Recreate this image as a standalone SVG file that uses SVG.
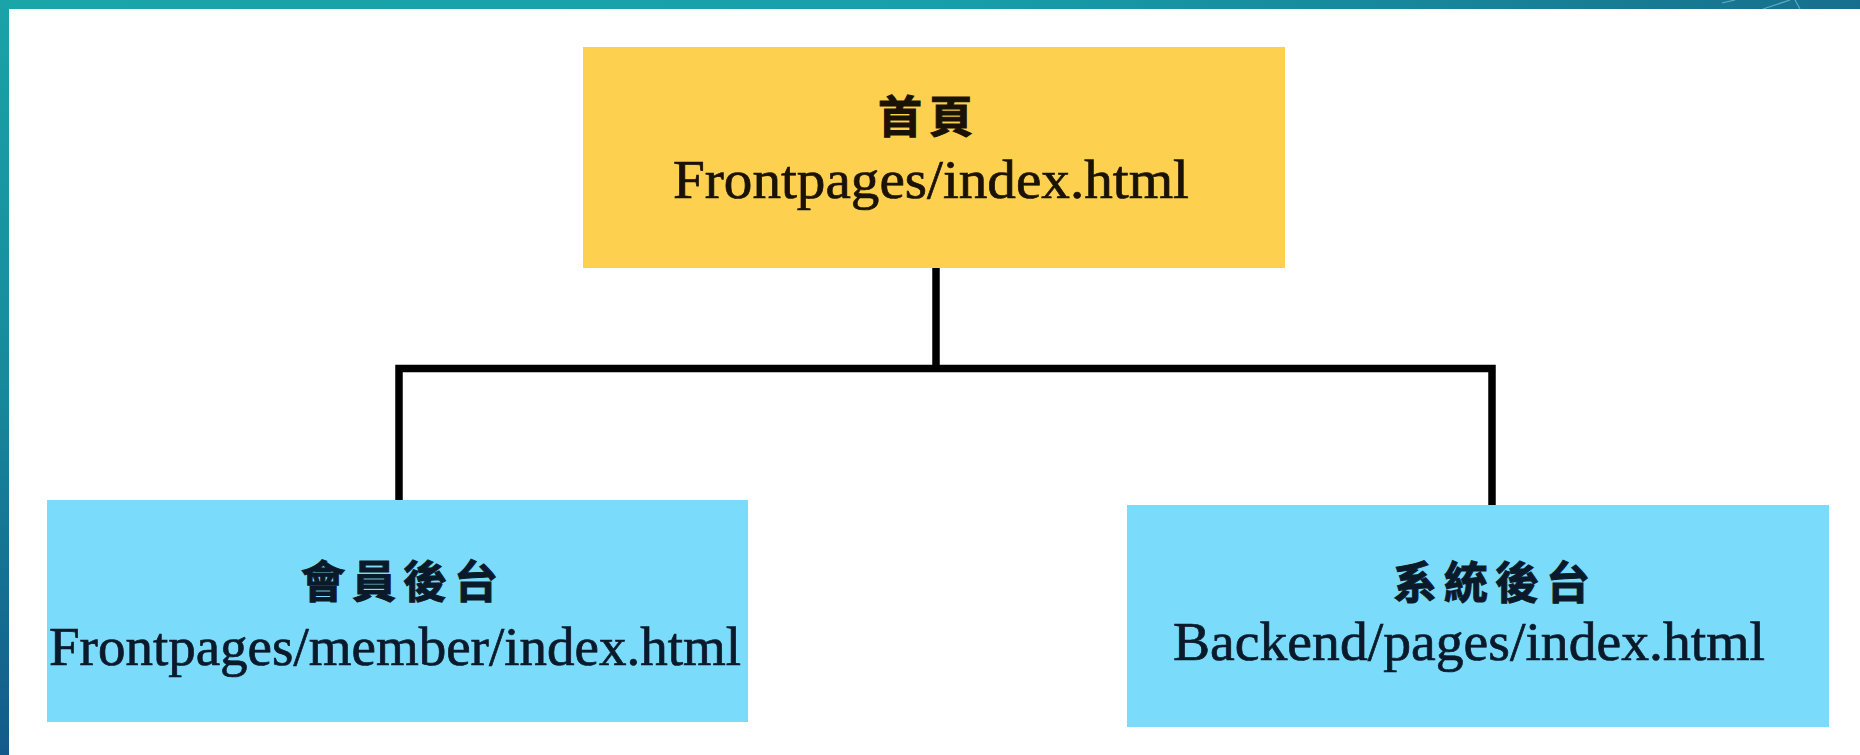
<svg xmlns="http://www.w3.org/2000/svg" width="1860" height="755" viewBox="0 0 1860 755">
  <defs>
    <linearGradient id="topBand" x1="0" y1="0" x2="1" y2="0">
      <stop offset="0" stop-color="#1aa5a9"/>
      <stop offset="0.5" stop-color="#17a0aa"/>
      <stop offset="1" stop-color="#176f8d"/>
    </linearGradient>
    <linearGradient id="leftBand" x1="0" y1="0" x2="0" y2="1">
      <stop offset="0" stop-color="#1aa3a8"/>
      <stop offset="0.5" stop-color="#178a9c"/>
      <stop offset="1" stop-color="#135a8a"/>
    </linearGradient>
  </defs>
  <style>
    .yellow { fill: #fdd14f; }
    .blue { fill: #7adbfb; }
    .cjk { font-family: "Noto Sans CJK TC", "Noto Sans CJK SC", sans-serif; font-size: 44px; font-weight: bold; letter-spacing: 7px; text-anchor: middle; }
    .lat { font-family: "Liberation Serif", "DejaVu Serif", serif; font-size: 54px; text-anchor: middle; stroke-width: 0.7; }
    .ink1 { fill: #1a1205; stroke: #1a1205; }
    .ink2 { fill: #0b1a2a; stroke: #0b1a2a; }
    .conn { fill: none; stroke: #000; stroke-width: 7.5; stroke-linejoin: miter; stroke-linecap: butt; }
  </style>

  <rect x="0" y="0" width="1860" height="755" fill="#ffffff"/>
  <rect x="0" y="0" width="1860" height="9" fill="url(#topBand)"/>
  <rect x="0" y="0" width="9" height="755" fill="url(#leftBand)"/>
  <g stroke="#8fd0dc" stroke-width="1.2" fill="none" opacity="0.6">
    <path d="M1722 3 L1735 0"/>
    <path d="M1763 9 L1790 0"/>
    <path d="M1795 0 L1800 9"/>
  </g>

  <g id="connectors">
    <path class="conn" d="M936 268 V368.5"/>
    <path class="conn" d="M399 500 V368.5 H1492 V505"/>
  </g>

  <g id="node-home">
    <rect class="yellow" x="583" y="47" width="702" height="221"/>
    <text class="cjk ink1" x="929" y="133">首頁</text>
    <text class="lat ink1" x="931" y="198" textLength="516" lengthAdjust="spacingAndGlyphs">Frontpages/index.html</text>
  </g>

  <g id="node-member">
    <rect class="blue" x="47" y="500" width="701" height="222"/>
    <text class="cjk ink2" x="403" y="598">會員後台</text>
    <text class="lat ink2" x="395" y="665" textLength="692" lengthAdjust="spacingAndGlyphs">Frontpages/member/index.html</text>
  </g>

  <g id="node-backend">
    <rect class="blue" x="1127" y="505" width="702" height="222"/>
    <text class="cjk ink2" x="1495" y="599">系統後台</text>
    <text class="lat ink2" x="1469" y="660" textLength="592" lengthAdjust="spacingAndGlyphs">Backend/pages/index.html</text>
  </g>
</svg>
